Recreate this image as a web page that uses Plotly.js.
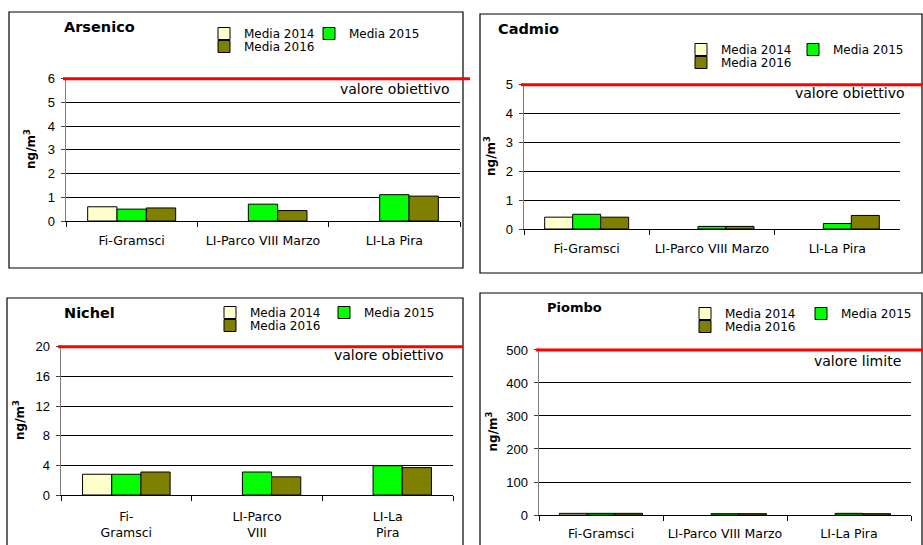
<!DOCTYPE html>
<html>
<head>
<meta charset="utf-8">
<script src="https://cdn.plot.ly/plotly-3.0.1.min.js"></script>
<style>
html,body{margin:0;padding:0;background:#fff;}
#chart{width:923px;height:545px;}
</style>
</head>
<body>
<div id="chart"></div>
<script>
// ---- data ----
const stations = ['Fi-Gramsci', 'LI-Parco VIII Marzo', 'LI-La Pira'];
const stationsWrapped = ['Fi-<br>Gramsci', 'LI-Parco<br>VIII', 'LI-La<br>Pira'];
const seriesNames = ['Media 2014', 'Media 2015', 'Media 2016'];

const arsenico2014 = [0.6, null, null];
const arsenico2015 = [0.5, 0.71, 1.11];
const arsenico2016 = [0.55, 0.44, 1.05];

const cadmio2014 = [0.41, null, null];
const cadmio2015 = [0.51, 0.09, 0.19];
const cadmio2016 = [0.41, 0.09, 0.47];

const nichel2014 = [2.8, null, null];
const nichel2015 = [2.8, 3.1, 3.95];
const nichel2016 = [3.1, 2.45, 3.7];

const piombo2014 = [5, null, null];
const piombo2015 = [5, 4, 5];
const piombo2016 = [5, 4, 4];

const panelTitles = ['Arsenico', 'Cadmio', 'Nichel', 'Piombo'];
const thresholds = [6, 5, 20, 500];
const thresholdLabels = ['valore obiettivo', 'valore obiettivo', 'valore obiettivo', 'valore limite'];
const yTicks = [[0,1,2,3,4,5,6], [0,1,2,3,4,5], [0,4,8,12,16,20], [0,100,200,300,400,500]];
const yUnit = 'ng/m<sup>3</sup>';

// ---- styling / layout (positions in pixels) ----
const W = 923, H = 545;
const fx = p => p / W;
const fy = p => 1 - p / H;
const colors = ['#FFFFCC', '#00FF00', '#808000'];
const FONT = 'DejaVu Sans';
const ARIAL = 'Liberation Sans';

const panels = [
  {plot:[66,460,77,221], box:[9,12,463,268], redEnd:470, title:[62,27,14.5], leg:[244,33,349,46], val:[452,79], standoff:9, xcats:stations, xstand:8},
  {plot:[524,900,83,229], box:[480,14,922,273], redEnd:923, title:[496,29,14.5], leg:[721,49,833,62], val:[907,83], standoff:7, xcats:stations, xstand:8},
  {plot:[61,453,345,495], box:[7,298,463,560], redEnd:463, title:[62,313,14.5], leg:[250,312,364,325], val:[446,345], standoff:8, xcats:stationsWrapped, xstand:10},
  {plot:[539,911,348,515], box:[480,293,922,560], redEnd:923, title:[545,307,13], leg:[725,313,841,326], val:[903,351], standoff:6, xcats:stations, xstand:7}
];

const values = [
  [arsenico2014, arsenico2015, arsenico2016],
  [cadmio2014, cadmio2015, cadmio2016],
  [nichel2014, nichel2015, nichel2016],
  [piombo2014, piombo2015, piombo2016]
];

const traces = [];
const layout = {
  width: W, height: H,
  margin: {l:0, r:0, t:0, b:0},
  paper_bgcolor: '#fff', plot_bgcolor: 'rgba(0,0,0,0)',
  barmode: 'group', bargap: 0.33, bargroupgap: 0,
  showlegend: true,
  shapes: [], annotations: []
};

panels.forEach((p, i) => {
  const n = i + 1;
  const xa = n === 1 ? 'x' : 'x' + n;
  const ya = n === 1 ? 'y' : 'y' + n;
  // legend entry positions (text start x, text centre y) for each series
  const legPos = [[p.leg[0], p.leg[1]], [p.leg[2], p.leg[1]], [p.leg[0], p.leg[3]]];
  seriesNames.forEach((name, s) => {
    const k = i * 3 + s + 1;
    const legName = k === 1 ? 'legend' : 'legend' + k;
    traces.push({
      type: 'bar', name: name, x: p.xcats, y: values[i][s],
      xaxis: xa, yaxis: ya,
      marker: {color: colors[s], line: {color: '#000', width: 1}},
      legend: legName,
      hoverinfo: 'skip'
    });
    layout[legName] = {
      orientation: 'h', x: fx(legPos[s][0] - 40), y: fy(legPos[s][1] - 14), xanchor: 'left', yanchor: 'top',
      bgcolor: 'rgba(0,0,0,0)', borderwidth: 0,
      font: {family: FONT, size: 12, color: '#000'}, itemclick: false, itemdoubleclick: false
    };
  });
  layout['xaxis' + (n === 1 ? '' : n)] = {
    domain: [fx(p.plot[0]), fx(p.plot[1])], anchor: ya,
    type: 'category', range: [-0.5, 2.5], fixedrange: true,
    showline: true, linecolor: '#000', linewidth: 1,
    ticks: 'outside', tickson: 'boundaries', ticklen: 5, tickcolor: '#000', tickwidth: 1,
    showgrid: false, zeroline: false, tickangle: 0,
    tickfont: {family: FONT, size: 12.5, color: '#000'},
    ticklabelstandoff: p.xstand
  };
  layout['yaxis' + (n === 1 ? '' : n)] = {
    domain: [fy(p.plot[3]), fy(p.plot[2])], anchor: xa,
    range: [0, thresholds[i] * 1.012], tickmode: 'array', tickvals: yTicks[i], fixedrange: true,
    showline: true, linecolor: '#808080', linewidth: 1.5,
    ticks: 'outside', ticklen: 4, tickcolor: '#404040',
    showgrid: true, gridcolor: '#000', gridwidth: 1, zeroline: false,
    tickfont: {family: ARIAL, size: 13, color: '#000'},
    ticklabelstandoff: 3,
    title: {text: yUnit, font: {family: FONT, size: 12, color: '#000', weight: 'bold'}, standoff: p.standoff}
  };
  // panel frame
  layout.shapes.push({type:'rect', xref:'paper', yref:'paper', layer:'below',
    x0: fx(p.box[0]), x1: fx(p.box[2]), y0: fy(p.box[3]), y1: fy(p.box[1]),
    line: {color:'#000', width:1.2}, fillcolor:'rgba(0,0,0,0)'});
  // threshold line
  layout.shapes.push({type:'line', xref:'paper', yref: ya, layer:'above',
    x0: fx(p.plot[0] - 3), x1: fx(p.redEnd), y0: thresholds[i], y1: thresholds[i],
    line: {color:'#FF0000', width:3}});
  // threshold label
  layout.annotations.push({xref:'paper', yref:'paper', x: fx(p.val[0]), y: fy(p.val[1]),
    xanchor:'right', yanchor:'top', showarrow:false, text: thresholdLabels[i],
    font:{family: FONT, size: 14, color:'#000'}});
  // panel title
  layout.annotations.push({xref:'paper', yref:'paper', x: fx(p.title[0]), y: fy(p.title[1]),
    xanchor:'left', yanchor:'middle', showarrow:false, text: '<b>' + panelTitles[i] + '</b>',
    font:{family: FONT, size: p.title[2], color:'#000'}});
});

Plotly.newPlot('chart', traces, layout, {displayModeBar: false, staticPlot: true});
</script>
</body>
</html>
